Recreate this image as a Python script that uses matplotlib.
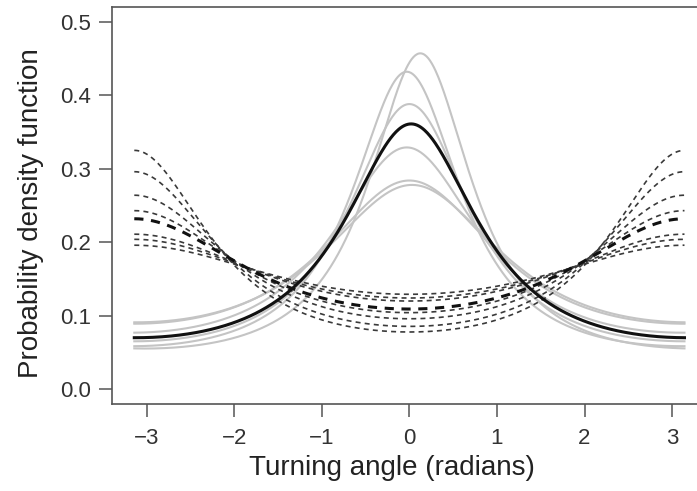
import numpy as np
import matplotlib
matplotlib.use("Agg")
import matplotlib.pyplot as plt

# Densities of turning angles (wrapped Cauchy), read off the picture as
# mode location (radians) and height of the density at the mode.
solid_mode_loc = [0.125, -0.03, 0.0, -0.03, 0.0, 0.03]
solid_mode_height = [0.457, 0.432, 0.388, 0.329, 0.284, 0.278]
mean_solid_loc = 0.02
mean_solid_height = 0.361

dashed_mode_loc = [np.pi, np.pi, np.pi, np.pi, np.pi, np.pi, np.pi]
dashed_mode_height = [0.325, 0.296, 0.264, 0.243, 0.211, 0.204, 0.196]
mean_dashed_loc = np.pi
mean_dashed_height = 0.232

x_ticks = [-3, -2, -1, 0, 1, 2, 3]
y_ticks = [0.0, 0.1, 0.2, 0.3, 0.4, 0.5]


def wrapped_cauchy(theta, mu, height):
    # concentration from the height at the mode: (1+rho)/(1-rho) = 2*pi*height
    k = 2 * np.pi * height
    rho = (k - 1) / (k + 1)
    return (1 - rho ** 2) / (2 * np.pi * (1 + rho ** 2 - 2 * rho * np.cos(theta - mu)))


theta = np.linspace(-np.pi, np.pi, 600)

plt.rcParams['font.family'] = ['Liberation Sans', 'DejaVu Sans']
fig = plt.figure(figsize=(6.97, 4.91), dpi=100)
ax = fig.add_axes([0.1611, 0.1772, 0.8525, 0.8085])

for mu, h in zip(solid_mode_loc, solid_mode_height):
    ax.plot(theta, wrapped_cauchy(theta, mu, h), color='#c4c4c4', lw=1.5)
for mu, h in zip(dashed_mode_loc, dashed_mode_height):
    ax.plot(theta, wrapped_cauchy(theta, mu, h), color='#3a3a3a', lw=1.2,
            linestyle=(0, (3, 2.5)))
ax.plot(theta, wrapped_cauchy(theta, mean_solid_loc, mean_solid_height),
        color='#111111', lw=2.2)
ax.plot(theta, wrapped_cauchy(theta, mean_dashed_loc, mean_dashed_height),
        color='#111111', lw=2.2, linestyle=(0, (3, 2.5)))

ax.set_xlim(-np.pi * 1.08, np.pi * 1.08)
ax.set_ylim(-0.02, 0.52)
ax.set_xticks(x_ticks)
ax.set_xticklabels(['\u22123', '\u22122', '\u22121', '0', '1', '2', '3'])
ax.set_yticks(y_ticks)
ax.set_yticklabels([f'{v:.1f}' for v in y_ticks])
ax.tick_params(length=9.5, width=1.1, color='#555555', labelsize=16,
               labelcolor='#333333')
ax.tick_params(axis='x', pad=8)
ax.tick_params(axis='y', pad=5.5)
for s in ax.spines.values():
    s.set_color('#555555')
    s.set_linewidth(1.2)

ax.set_xlabel('Turning angle (radians)', fontsize=20, color='#222222', va='center')
ax.set_ylabel('Probability density function', fontsize=20, color='#222222', va='center')
ax.xaxis.set_label_coords(0.47, -0.161)
ax.yaxis.set_label_coords(-0.137, 0.481)

fig.savefig('out.png', dpi=100)
